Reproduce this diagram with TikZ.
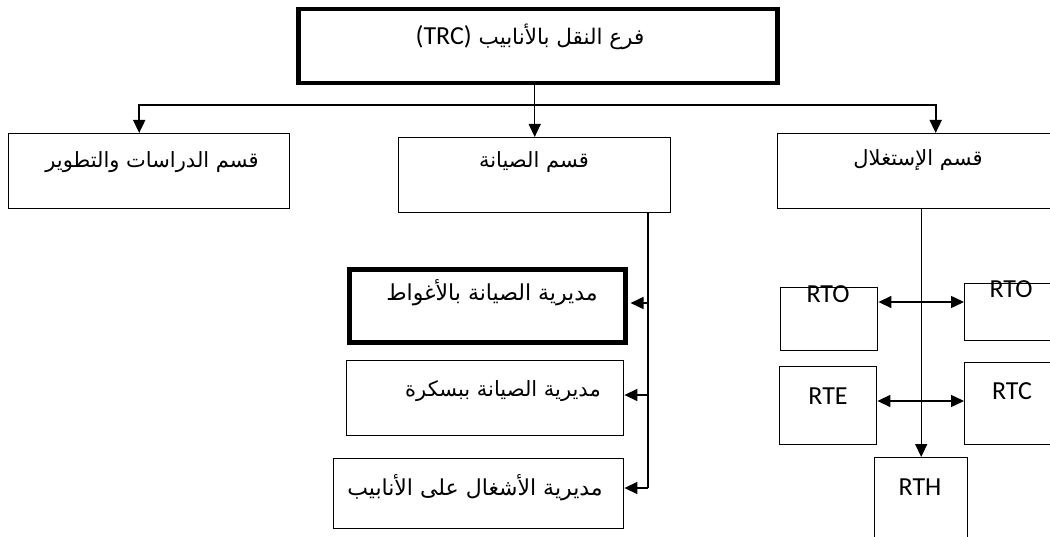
\documentclass[tikz,border=0pt]{standalone}
\usepackage{fontspec}
\setmainfont{Carlito}
\newfontfamily\arabicfont[Script=Arabic]{DejaVu Sans}
\newfontfamily\latinfont{Carlito}
\TeXXeTstate=1
\usetikzlibrary{arrows.meta}
\begin{document}
\begin{tikzpicture}[x=1pt,y=-1pt,
  box/.style={draw, line width=1.4pt, inner sep=0pt, anchor=north west},
  heavybox/.style={box, line width=5pt},
  ar/.style={font=\arabicfont\fontsize{#1}{24}\selectfont, inner sep=0pt},
  ar/.default=21,
  la/.style={font=\latinfont\fontsize{26}{30}\selectfont, inner sep=0pt},
  conn/.style={line width=1.4pt},
  arr/.style={line width=1.4pt, -{Triangle[length=13pt,width=12pt]}},
  darr/.style={line width=1.4pt, {Triangle[length=13pt,width=12pt]}-{Triangle[length=13pt,width=12pt]}}]
\useasboundingbox (0,0) rectangle (1050,537);
\clip (0,0) rectangle (1050,537);

% boxes
\node[box, line width=4.5pt, minimum width=479pt, minimum height=74pt] (top) at (296,7) {};
\node[box, minimum width=281pt, minimum height=75pt] (left) at (8,133) {};
\node[box, minimum width=272pt, minimum height=75pt] (mid) at (398,137) {};
\node[box, minimum width=316pt, minimum height=75pt] (right) at (777,133) {};
\node[heavybox, minimum width=276pt, minimum height=73pt] (sub1) at (347,267) {};
\node[box, minimum width=277pt, minimum height=75pt] (sub2) at (346,360) {};
\node[box, minimum width=290pt, minimum height=70pt] (sub3) at (333,458) {};
\node[box, minimum width=97pt, minimum height=63pt] (rtoL) at (780,287) {};
\node[box, minimum width=120pt, minimum height=57pt] (rtoR) at (964,283) {};
\node[box, minimum width=97pt, minimum height=78pt] (rte) at (779,366) {};
\node[box, minimum width=120pt, minimum height=82pt] (rtc) at (964,362) {};
\node[box, minimum width=93pt, minimum height=90pt] (rth) at (874,457) {};

% texts
\node[ar=21.5] (ttop) at (530,37) {\beginR فرع النقل بالأنابيب \beginL{\latinfont\fontsize{26}{30}\selectfont (TRC)}\endL\endR};
\node[ar] (tleft) at (152,162) {\beginR قسم الدراسات والتطوير\endR};
\node[ar] (tmid) at (534,162) {\beginR قسم الصيانة\endR};
\node[ar] (tright) at (918,160) {\beginR قسم الإستغلال\endR};
\node[ar=22] (tsub1) at (492,293) {\beginR مديرية الصيانة بالأغواط\endR};
\node[ar] (tsub2) at (503,391) {\beginR مديرية الصيانة ببسكرة\endR};
\node[ar=22] (tsub3) at (475,488) {\beginR مديرية الأشغال على الأنابيب\endR};
\node[la] (trtoL) at (828,294) {RTO};
\node[la] (trtoR) at (1011,289) {RTO};
\node[la] (trte) at (828,396) {RTE};
\node[la] (trtc) at (1012,391) {RTC};
\node[la] (trth) at (920,487) {RTH};

% top connectors
\coordinate (jn) at (534,105);
\draw[arr] (mid.north |- top.south) -- (mid.north);
\draw[arr, line width=1.8pt] (jn) -| ([xshift=-10pt]left.north);
\draw[arr, line width=1.8pt] (jn) -| (right.north);

% maintenance branch
\coordinate (v1) at (648,303);
\coordinate (v2) at (648,395);
\coordinate (v3) at (648,488);
\draw[conn] (mid.south -| v1) -- (v3);
\draw[arr] (v1) -- ([xshift=2.5pt]v1 -| sub1.east);
\draw[arr] (v2) -- (v2 -| sub2.east);
\draw[arr] (v3) -- (v3 -| sub3.east);

% exploitation branch
\coordinate (h1) at (920,302);
\coordinate (h2) at (920,401);
\draw[arr] (right.south -| rth.north) -- (rth.north);
\draw[darr] (h1 -| rtoL.east) -- (h1 -| rtoR.west);
\draw[darr] (h2 -| rte.east) -- (h2 -| rtc.west);
\end{tikzpicture}
\end{document}
